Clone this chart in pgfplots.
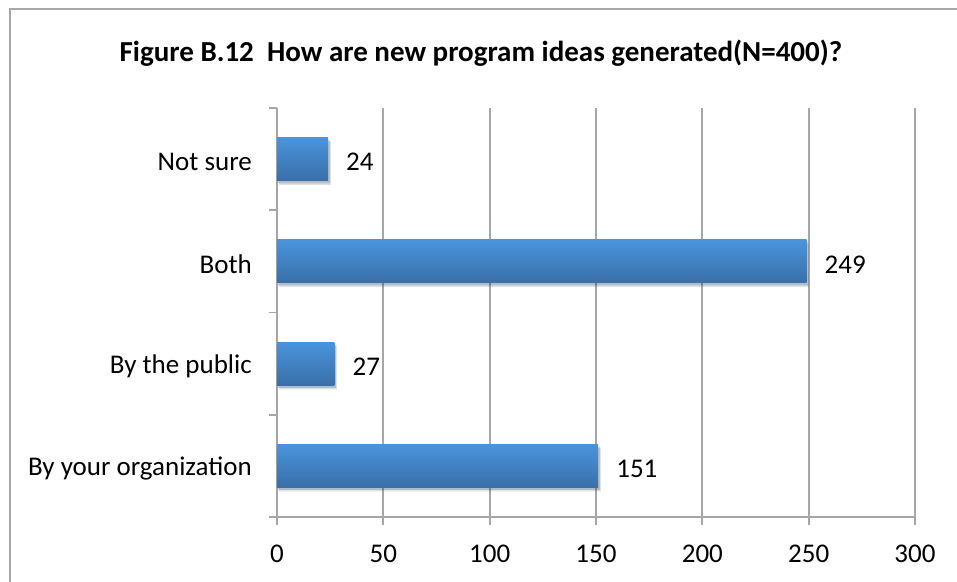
\documentclass[border=0pt]{standalone}
\usepackage{pgfplots}
\pgfplotsset{compat=1.18}
\usetikzlibrary{shadows}
\usepackage{fontspec}
\setmainfont{Carlito}
\definecolor{gridgray}{HTML}{A6A6A6}
\definecolor{bartop}{HTML}{4A94DC}
\definecolor{barbot}{HTML}{3A6FA8}
\begin{document}
\begin{tikzpicture}
\useasboundingbox (-277pt,-64pt) rectangle (680pt,517pt);
\draw[gridgray, line width=2pt] (-267pt,-100pt) -- (-267pt,508pt) -- (720pt,508pt);
\node[anchor=base, inner sep=0pt, font=\fontsize{29}{34}\selectfont\bfseries] at (481pt-277pt,455pt) {Figure B.12\ \ How are new program ideas generated(N=400)?};
\begin{axis}[
  at={(0pt,0pt)}, anchor=south west,
  scale only axis, width=638pt, height=409pt,
  xmin=0, xmax=300, ymin=-0.5, ymax=3.5,
  xtick={0,50,...,300},
  ytick={0,1,2,3},
  yticklabels={By your organization, By the public, Both, Not sure},
  minor ytick={-0.5,0.5,1.5,2.5,3.5},
  axis x line*=bottom, axis y line*=left,
  axis line style={gridgray, line width=1.8pt, -},
  xmajorgrids, grid style={gridgray, line width=1.8pt},
  tick align=outside,
  major tick length=8pt,
  minor tick length=8pt,
  major y tick style={draw=none},
  minor y tick style={gridgray, line width=1.8pt},
  major x tick style={gridgray, line width=1.8pt},
  /pgf/number format/assume math mode=true,
  tick label style={font=\fontsize{27}{32}\selectfont, text=black},
  yticklabel style={inner sep=0pt, xshift=-17pt, yshift=-3pt},
  xticklabel style={inner sep=0pt, yshift=-20pt},
  clip=false,
  no markers,
  every axis plot/.append style={xbar, bar width=43pt, bar shift=0pt, draw=none, mark=none,
    top color=bartop, bottom color=barbot,
    drop shadow={shadow xshift=2.5pt, shadow yshift=-4pt, opacity=0.08, fill=black},
    drop shadow={shadow xshift=1.5pt, shadow yshift=-2.5pt, opacity=0.12, fill=black},
    nodes near coords,
    nodes near coords style={anchor=west, inner sep=0pt, xshift=18pt, yshift=-3pt, font=\fontsize{27}{32}\selectfont, text=black}},
]
\addplot coordinates {(151,0)};
\addplot coordinates {(27,1)};
\addplot coordinates {(249,2)};
\addplot coordinates {(24,3)};
\end{axis}
\end{tikzpicture}
\end{document}
